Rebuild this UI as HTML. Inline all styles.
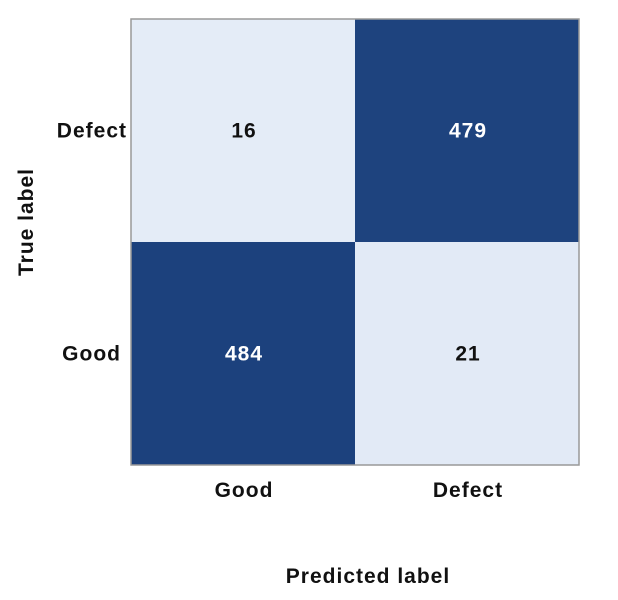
<!DOCTYPE html>
<html><head><meta charset="utf-8"><style>
body{margin:0;background:#fff;}
svg{display:block;font-family:"Liberation Sans",Arial,sans-serif;}
text{letter-spacing:1px;}
</style></head><body>
<svg id="chart" width="618" height="600">
<g id="cells"></g>
<rect x="131" y="19" width="448" height="446" fill="none" stroke="#999" stroke-width="1.5"/>
<g id="labels" font-size="21" font-weight="bold" fill="#111"></g>
<text x="368" y="583" text-anchor="middle" font-size="21" font-weight="bold" fill="#111">Predicted label</text>
<text transform="translate(33,222) rotate(-90)" text-anchor="middle" font-size="21" font-weight="bold" fill="#111">True label</text>
</svg>
<script>
const predictedLabels = ["Good", "Defect"];
const trueLabels = ["Defect", "Good"]; // top to bottom
const values = [[16, 479], [484, 21]];

const L = 131, T = 19, W = 448, H = 446;
const cw = W / predictedLabels.length, ch = H / trueLabels.length;
const xPos = i => L + i * cw;
const yPos = j => T + j * ch;
const flat = values.flat();
const vmin = Math.min(...flat), vmax = Math.max(...flat);
const light = [228, 236, 247], dark = [28, 65, 125];
function color(v){
  const t = (v - vmin) / ((vmax - vmin) || 1);
  const c = light.map((a, k) => Math.round(a + (dark[k] - a) * t));
  return `rgb(${c[0]},${c[1]},${c[2]})`;
}
const NS = "http://www.w3.org/2000/svg";
const cells = document.getElementById('cells');
const labels = document.getElementById('labels');
trueLabels.forEach((tl, j) => {
  predictedLabels.forEach((pl, i) => {
    const v = values[j][i];
    const r = document.createElementNS(NS, 'rect');
    r.setAttribute('x', xPos(i)); r.setAttribute('y', yPos(j));
    r.setAttribute('width', cw); r.setAttribute('height', ch);
    r.setAttribute('fill', color(v));
    
    
    cells.appendChild(r);
    const t = document.createElementNS(NS, 'text');
    t.setAttribute('x', xPos(i) + cw / 2 + 1); t.setAttribute('y', yPos(j) + ch / 2 + 7);
    t.setAttribute('text-anchor', 'middle'); t.setAttribute('font-size', '21');
    t.setAttribute('font-weight', 'bold');
    t.setAttribute('fill', (v - vmin) / ((vmax - vmin) || 1) > 0.5 ? '#fff' : '#111');
    t.textContent = v;
    
    
    cells.appendChild(t);
  });
});
predictedLabels.forEach((pl, i) => {
  const t = document.createElementNS(NS, 'text');
  t.setAttribute('x', xPos(i) + cw / 2 + 1); t.setAttribute('y', 497);
  t.setAttribute('text-anchor', 'middle');
  t.textContent = pl;
  
  
  labels.appendChild(t);
});
trueLabels.forEach((tl, j) => {
  const t = document.createElementNS(NS, 'text');
  t.setAttribute('x', j === 0 ? 127 : 121); t.setAttribute('y', yPos(j) + ch / 2 + 7);
  t.setAttribute('text-anchor', 'end');
  t.textContent = tl;
  
  
  labels.appendChild(t);
});
</script>
</body></html>
